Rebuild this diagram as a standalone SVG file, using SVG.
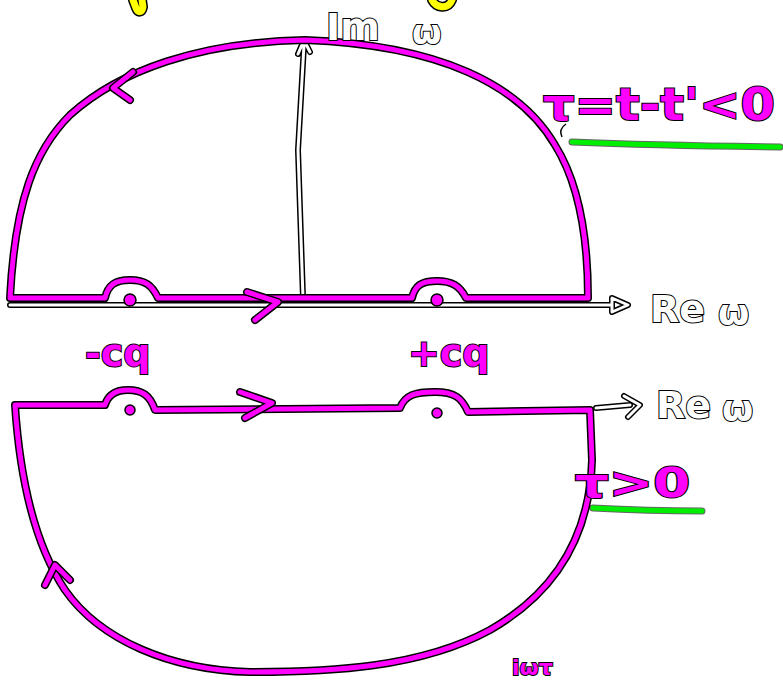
<svg xmlns="http://www.w3.org/2000/svg" width="783" height="681" viewBox="0 0 783 681">
<style>
.ol{fill:none;stroke:#000;stroke-width:8;stroke-linecap:round;stroke-linejoin:round}
.mg{fill:none;stroke:#ff00ff;stroke-width:5;stroke-linecap:round;stroke-linejoin:round}
.olw{fill:none;stroke:#000;stroke-width:6;stroke-linecap:round;stroke-linejoin:round}
.wh{fill:none;stroke:#fff;stroke-width:3;stroke-linecap:round;stroke-linejoin:round}
.gr{fill:none;stroke:#00ee00;stroke-width:5;stroke-linecap:round}
.grol{fill:none;stroke:#000;stroke-width:7;stroke-linecap:round;opacity:0.6}
.ye{fill:none;stroke:#ffff00;stroke-width:7;stroke-linecap:round}
.yeol{fill:none;stroke:#000;stroke-width:10;stroke-linecap:round}
.tm{font-family:"DejaVu Sans",sans-serif;font-weight:bold;fill:#ff00ff;stroke:#000;stroke-width:2;paint-order:stroke}
.tw{font-family:"DejaVu Sans",sans-serif;font-weight:bold;fill:#fff;stroke:#000;stroke-width:2;paint-order:stroke}
.dot{fill:#ff00ff;stroke:#000;stroke-width:1.5}
</style>
<defs>
<path id="top" d="M10,298 L105,298 C108,285 115,280 130,280 C145,280 152,285 158,298 L412,298 C415,285 422,281 437,281 C452,281 460,286 466,298 L588,298 C588,240 580,185 555,145 C520,85 440,45 305,40 C200,42 120,70 70,115 C35,150 15,200 10,298 Z"/>
<path id="bot" d="M15,405 L105,405 C108,395 115,390 128,390 C142,390 150,395 155,410 L400,408 C405,395 415,392 435,392 C455,392 462,398 468,412 L590,410 L592,460 C590,530 560,590 490,630 C420,668 330,672 250,672 C170,670 100,640 65,590 C35,545 20,480 15,405 Z"/>
<path id="a1" d="M133,72 L113,88 L130,100"/>
<path id="a2" d="M247,292 L278,302 L255,320"/>
<path id="a3" d="M240,392 L272,403 L245,418"/>
<path id="a4" d="M45,585 L55,565 L70,580"/>
<path id="ax1" d="M10,305 L612,305 M612,298 L628,305 L612,312 Z"/>
<path id="ax2" d="M303,298 L298,150 L304,45 M298,54 L304,40 L310,52"/>
<path id="ax3" d="M596,408 L630,405 M624,396 L640,405 L628,417"/>
</defs>
<g id="decor">
<path class="yeol" d="M133,0 L136,8 C138,13 142,13 143,7 L142,0"/>
<path class="ye" d="M133,0 L136,8 C138,13 142,13 143,7 L142,0"/>
<path class="yeol" d="M432,0 C436,8 448,10 452,0"/>
<path class="ye" d="M432,0 C436,8 448,10 452,0"/>
</g>
<g id="axes">
<use href="#ax1" class="olw"/><use href="#ax1" class="wh"/>
<use href="#ax2" class="olw"/><use href="#ax2" class="wh"/>
<use href="#ax3" class="olw"/><use href="#ax3" class="wh"/>
</g>
<g id="connectors">
<use href="#top" class="ol"/><use href="#top" class="mg"/>
<use href="#bot" class="ol"/><use href="#bot" class="mg"/>
<use href="#a1" class="ol"/><use href="#a1" class="mg"/>
<use href="#a2" class="ol"/><use href="#a2" class="mg"/>
<use href="#a3" class="ol"/><use href="#a3" class="mg"/>
<use href="#a4" class="ol"/><use href="#a4" class="mg"/>
</g>
<g id="poles">
<circle class="dot" cx="130" cy="300" r="6"/>
<circle class="dot" cx="437" cy="300" r="6"/>
<circle class="dot" cx="130" cy="410" r="5"/>
<circle class="dot" cx="437" cy="413" r="5"/>
</g>
<g id="underlines">
<path class="grol" d="M572,142 C620,144 700,146 780,147"/>
<path class="gr" d="M572,142 C620,144 700,146 780,147"/>
<path class="grol" d="M593,508 C630,510 670,511 702,511"/>
<path class="gr" d="M593,508 C630,510 670,511 702,511"/>
<path d="M566,124 C560,128 560,133 562,137" fill="none" stroke="#000" stroke-width="1.5"/>
</g>
<g id="labels">
<text class="tw" x="326" y="40" font-size="38">Im</text>
<text class="tw" x="412" y="44" font-size="34">ω</text>
<text class="tw" x="650" y="322" font-size="38">Re</text>
<text class="tw" x="718" y="325" font-size="36">ω</text>
<text class="tw" x="656" y="418" font-size="38">Re</text>
<text class="tw" x="722" y="421" font-size="36">ω</text>
<text class="tm" x="543" y="120" font-size="44" textLength="232" lengthAdjust="spacingAndGlyphs">τ=t-t'&lt;0</text>
<text class="tm" x="85" y="366" font-size="38">-cq</text>
<text class="tm" x="408" y="366" font-size="38">+cq</text>
<text class="tm" x="575" y="497" font-size="40" textLength="115" lengthAdjust="spacingAndGlyphs">τ&gt;0</text>
<text class="tm" x="512" y="675" font-size="22">iωτ</text>
</g>
</svg>
